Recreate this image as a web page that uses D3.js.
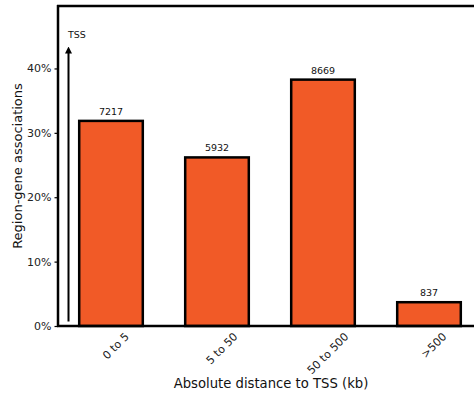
<!DOCTYPE html>
<html><head><meta charset="utf-8">
<script src="https://cdn.jsdelivr.net/npm/d3@7"></script>
<style>body{margin:0;background:#fff}svg{display:block;font-family:"DejaVu Sans",sans-serif}</style>
</head><body><svg id="c" width="474" height="400"></svg>
<script>
const categories = ["0 to 5", "5 to 50", "50 to 500", ">500"];
const counts = [7217, 5932, 8669, 837];
const yTicks = [0, 0.1, 0.2, 0.3, 0.4];
const total = d3.sum(counts);
const fractions = counts.map(c => c / total);

const svg = d3.select("#c");
const mLeft = 58, mRight = 482, mTop = 6, mBottom = 326;
const x = d3.scaleBand().domain(categories).range([mLeft, mRight]).paddingInner(0.4).paddingOuter(0.2);
const y = d3.scaleLinear().domain([0, 0.497]).range([mBottom, mTop]);

// bars
svg.append("g").selectAll("rect").data(categories).join("rect")
  .attr("x", d => x(d)).attr("width", x.bandwidth())
  .attr("y", (d, i) => y(fractions[i])).attr("height", (d, i) => mBottom - y(fractions[i]))
  .attr("fill", "#f15a27").attr("stroke", "#000").attr("stroke-width", 2.5);

// count labels
svg.append("g").selectAll("text").data(categories).join("text")
  .attr("x", d => x(d) + x.bandwidth() / 2).attr("y", (d, i) => y(fractions[i]) - 6)
  .attr("text-anchor", "middle").attr("font-size", 9.5).attr("fill", "#111")
  .text((d, i) => counts[i]);

// y axis
const yAxis = svg.append("g").attr("transform", `translate(${mLeft},0)`)
  .call(d3.axisLeft(y).tickValues(yTicks).tickFormat(d3.format(".0%")).tickSize(3.5).tickPadding(3));
yAxis.select(".domain").remove();
yAxis.selectAll("line").attr("stroke", "#000").attr("stroke-width", 1.2);
yAxis.selectAll("text").attr("font-size", 11).attr("fill", "#222").attr("font-family", "DejaVu Sans");

// frame: left, top, bottom
svg.append("line").attr("x1", mLeft).attr("x2", mLeft).attr("y1", mTop - 1).attr("y2", mBottom + 1).attr("stroke", "#000").attr("stroke-width", 2.5);
svg.append("line").attr("x1", mLeft - 1).attr("x2", 474).attr("y1", mTop).attr("y2", mTop).attr("stroke", "#000").attr("stroke-width", 2.5);
svg.append("line").attr("x1", mLeft - 1).attr("x2", 474).attr("y1", mBottom).attr("y2", mBottom).attr("stroke", "#000").attr("stroke-width", 2.5);

// x tick labels rotated
const xl = svg.append("g").selectAll("text").data(categories).join("text")
  .attr("text-anchor", "middle").attr("dominant-baseline", "central")
  .attr("font-size", 11).attr("fill", "#222").text(d => d);
xl.each(function(d) {
  const w = this.getComputedTextLength(), h = 11;
  const H = (w + h) * Math.SQRT1_2;
  const cx = x(d) + x.bandwidth() / 2 + 5;
  d3.select(this).attr("transform", `translate(${cx},${331 + H / 2}) rotate(-45)`);
});

// TSS arrow
svg.append("defs").append("marker").attr("id", "ah").attr("viewBox", "0 0 10 10")
  .attr("refX", 5).attr("refY", 5).attr("markerWidth", 3.5).attr("markerHeight", 3.5).attr("orient", "auto")
  .append("path").attr("d", "M0,0 L10,5 L0,10 z").attr("fill", "#000");
svg.append("line").attr("x1", 68.5).attr("x2", 68.5).attr("y1", y(0.007)).attr("y2", 50)
  .attr("stroke", "#000").attr("stroke-width", 2).attr("marker-end", "url(#ah)");
svg.append("text").attr("x", 68).attr("y", 38).attr("font-size", 9.5).attr("fill", "#111").text("TSS");

// axis titles
svg.append("text").attr("transform", `translate(22,166) rotate(-90)`).attr("text-anchor", "middle")
  .attr("font-size", 13).attr("fill", "#111").text("Region-gene associations");
svg.append("text").attr("x", 271).attr("y", 388).attr("text-anchor", "middle")
  .attr("font-size", 13.2).attr("fill", "#111").text("Absolute distance to TSS (kb)");
</script></body></html>
